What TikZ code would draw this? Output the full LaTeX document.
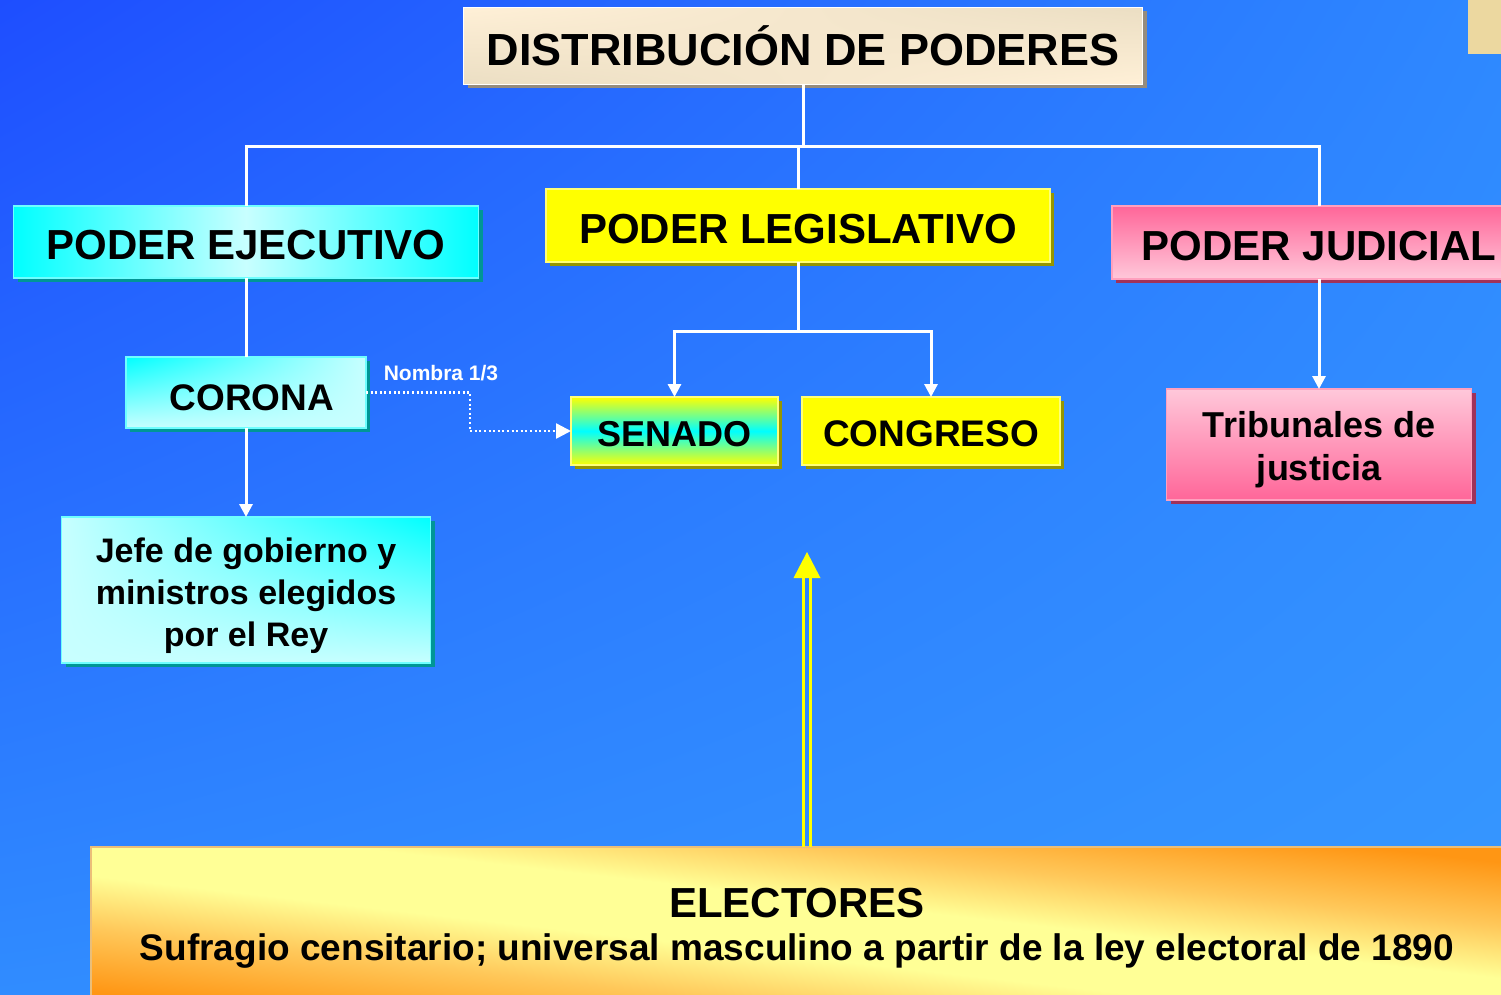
\documentclass[tikz,border=0pt]{standalone}
\usepackage{fontspec}
\setmainfont{Liberation Sans}
\usetikzlibrary{arrows.meta,shadows,shadings}
\definecolor{bgUL}{RGB}{30,78,255}
\definecolor{bgUR}{RGB}{46,136,255}
\definecolor{bgLL}{RGB}{48,140,255}
\definecolor{bgLR}{RGB}{54,152,255}
\definecolor{cyanA}{RGB}{0,255,255}
\definecolor{cyanL}{RGB}{200,255,255}
\definecolor{cyanB}{RGB}{110,255,255}
\definecolor{tealS}{RGB}{0,150,150}
\definecolor{yelA}{RGB}{255,255,0}
\definecolor{yelB}{RGB}{255,255,120}
\definecolor{oliveS}{RGB}{150,150,0}
\definecolor{pinkA}{RGB}{255,102,153}
\definecolor{pinkL}{RGB}{255,200,218}
\definecolor{pinkB}{RGB}{255,160,190}
\definecolor{pinkS}{RGB}{160,50,90}
\definecolor{begA}{RGB}{255,240,215}
\definecolor{begB}{RGB}{235,222,195}
\definecolor{greyS}{RGB}{150,140,125}
\definecolor{elO}{RGB}{255,150,20}
\definecolor{elM}{RGB}{255,200,90}
\definecolor{elY}{RGB}{255,255,150}
\definecolor{elB}{RGB}{235,190,120}
\definecolor{tanR}{RGB}{236,216,160}
\pgfdeclareverticalshading{elecsh}{100bp}{color(0bp)=(elO); color(25bp)=(elO); color(36bp)=(elM); color(45bp)=(elY); color(55bp)=(elY); color(64bp)=(elM); color(75bp)=(elO); color(100bp)=(elO)}
\newcommand{\vstrut}[1]{\rule{0pt}{#1}}
\tikzset{
  box/.style={draw, line width=1.2pt, inner sep=0pt, outer sep=0pt, align=center, text=black, font=\bfseries},
  cyanbox/.style={box, draw=cyanB, general shadow={fill=tealS, shadow xshift=4pt, shadow yshift=-4pt}},
  yelbox/.style={box, draw=yelB, general shadow={fill=oliveS, shadow xshift=4pt, shadow yshift=-4pt}},
  pinkbox/.style={box, draw=pinkB, general shadow={fill=pinkS, shadow xshift=4pt, shadow yshift=-4pt}},
  wire/.style={draw=white, line width=3pt},
  warrow/.style={wire, -{Triangle[width=13pt,length=13pt]}},
  dotwire/.style={draw=white, line width=2.5pt, dash pattern=on 2pt off 2.6pt, -{Triangle[width=15pt,length=15pt]}},
  yline/.style={draw=yelA, line width=3.5pt},
}
\begin{document}
\begin{tikzpicture}[x=1pt,y=-1pt]
\clip (0,0) rectangle (1501,994);
\shade[upper left=bgUL, upper right=bgUR, lower left=bgLL, lower right=bgLR] (0,0) rectangle (1501,994);
\fill[tanR] (1468,0) rectangle (1510,54);

% title
\node[box, draw=white, line width=1pt, upper left=begA, upper right=begB, lower left=begB, lower right=begA,
  general shadow={fill=greyS, shadow xshift=4pt, shadow yshift=-4pt},
  minimum width=679pt, minimum height=77pt, font=\bfseries\fontsize{45pt}{54pt}\selectfont] (title) at (803,45.5) {DISTRIBUCIÓN DE PODERES};

% level 1
\node[cyanbox, left color=cyanA, right color=cyanA, middle color=cyanL,
  minimum width=465pt, minimum height=72pt, font=\bfseries\fontsize{42pt}{50pt}\selectfont] (ejec) at (246,242) {\vstrut{36pt}PODER EJECUTIVO};
\node[yelbox, fill=yelA, minimum width=504pt, minimum height=73pt,
  font=\bfseries\fontsize{42pt}{50pt}\selectfont] (leg) at (798,225.5) {\vstrut{36pt}PODER LEGISLATIVO};
\node[pinkbox, top color=pinkA, bottom color=pinkL, minimum width=414pt, minimum height=73pt,
  font=\bfseries\fontsize{42pt}{50pt}\selectfont] (jud) at (1319,242.5) {\vstrut{36pt}PODER JUDICIAL};

% level 2
\node[cyanbox, upper left=cyanA, upper right=cyanL, lower left=cyanL, lower right=cyanL,
  minimum width=240pt, minimum height=71pt, font=\bfseries\fontsize{37pt}{43pt}\selectfont] (cor) at (246,392.5) {\vstrut{36pt}\hspace*{12pt}CORONA};
\node[yelbox, top color=yelA, bottom color=yelA, middle color=cyanA, minimum width=207pt, minimum height=68pt,
  font=\bfseries\fontsize{36pt}{43pt}\selectfont] (sen) at (674.5,431) {\vstrut{30.5pt}SENADO};
\node[yelbox, fill=yelA, minimum width=258pt, minimum height=68pt,
  font=\bfseries\fontsize{37pt}{43pt}\selectfont] (cong) at (931,431) {\vstrut{31pt}CONGRESO};
\node[pinkbox, top color=pinkL, bottom color=pinkA, minimum width=305pt, minimum height=111pt,
  font=\bfseries\fontsize{36pt}{43pt}\selectfont] (trib) at (1319,444.5) {\vstrut{36pt}Tribunales de\\justicia};
\node[cyanbox, upper left=cyanL, upper right=cyanA, lower left=cyanL, lower right=cyanL,
  minimum width=369pt, minimum height=146pt, font=\bfseries\fontsize{34pt}{42pt}\selectfont] (jefe) at (246,590) {\vstrut{37pt}Jefe de gobierno y\\ministros elegidos\\por el Rey};

% electores
\node[box, draw=elB, line width=1.5pt, shading=elecsh, shading angle=-6.5, minimum width=1412pt, minimum height=160pt] (elect) at (797,927) {};
\node[inner sep=0pt, font=\bfseries\fontsize{42pt}{50pt}\selectfont] (electT) at (797,903) {ELECTORES};
\node[inner sep=0pt, font=\bfseries\fontsize{37pt}{44pt}\selectfont] (electS) at (797,951) {Sufragio censitario; universal masculino a partir de la ley electoral de 1890};

% connectors
\coordinate (bus) at (247,146);
\coordinate (legbus) at (798,331);
\coordinate (dotbend) at (470,431);
\draw[wire] (title.south) -- (title.south |- bus);
\draw[wire] (ejec.north) -- (ejec.north |- bus) -- (jud.north |- bus) -- (jud.north);
\draw[wire] (leg.north) -- (leg.north |- bus);
\draw[wire] (ejec.south) -- (cor.north);
\draw[warrow] (cor.south) -- (jefe.north);
\draw[wire] (leg.south) -- (legbus);
\draw[warrow] (legbus) -| (sen.north);
\draw[warrow] (legbus) -| (cong.north);
\draw[warrow] (jud.south) -- (trib.north);
\draw[dotwire] (cor.east) -| (dotbend) -- (sen.west);
\node[text=white, font=\bfseries\fontsize{21pt}{25pt}\selectfont, inner sep=0pt] (nombra) at (441,373) {Nombra 1/3};

% yellow double arrow
\coordinate (ytip) at (807,552);
\coordinate (yhead) at (807,578);
\draw[yline] ([xshift=-3.3pt]yhead |- elect.north) -- ([xshift=-3.3pt]yhead);
\draw[yline] ([xshift=3.3pt]yhead |- elect.north) -- ([xshift=3.3pt]yhead);
\fill[yelA] ([xshift=-13.5pt]yhead) -- (ytip) -- ([xshift=13.5pt]yhead) -- cycle;
\end{tikzpicture}
\end{document}
